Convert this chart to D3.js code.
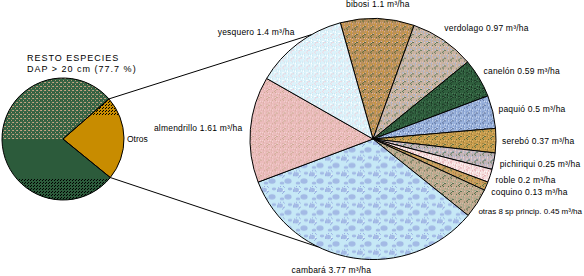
<!DOCTYPE html>
<html><head><meta charset="utf-8">
<script src="https://cdn.jsdelivr.net/npm/d3@7"></script>
<style>
html,body{margin:0;padding:0;background:#fff;}
svg{display:block;}
text{font-family:"Liberation Sans",Arial,sans-serif;fill:#000;}
</style></head>
<body>
<svg id="chart" width="584" height="276"></svg>
<script>
// ---- data ----
const smallCategories = ["RESTO ESPECIES", "Otros"];
const smallValues = [77.7, 22.3];
const titleLines = ["RESTO ESPECIES", "DAP > 20 cm (77.7 %)"];

const bigCategories = ["bibosi","verdolago","canelón","paquió","serebó","pichiriqui","roble","coquino","otras 8 sp princip.","cambará","almendrillo","yesquero"];
const bigValues = [1.1, 0.97, 0.59, 0.5, 0.37, 0.25, 0.2, 0.13, 0.45, 3.77, 1.61, 1.4];
const bigValueLabels = ["1.1","0.97","0.59","0.5","0.37","0.25","0.2","0.13","0.45","3.77","1.61","1.4"];
const unitLabel = "m³/ha";

// ---- styling ----
const textures = [
  {base:"#b8905c", dots:["#56683a","#e4b4a4","#d49a30"]},   // bibosi
  {base:"#c8b2a0", dots:["#5c7a5c","#e8c8c0","#a8b8d8"]},   // verdolago
  {base:"#2f5f3d", dots:["#1c3a26","#4c7a5a","#183020"]},   // canelon
  {base:"#9ab2dc", dots:["#5a6e98","#d8e4f4","#7890c0"]},   // paquio
  {base:"#c89c4c", dots:["#5c7040","#e0b870","#9c8040"]},   // serebo
  {base:"#c4b4b8", dots:["#587858","#a0b4d8","#e8d0d0"]},   // pichiriqui
  {base:"#f6e0e0", dots:["#e0a0a8","#ffffff","#e8b8b8"]},   // roble
  {base:"#c8a064", dots:["#587040","#e0a040","#a88050"]},   // coquino
  {base:"#c2aa90", dots:["#4f6e4c","#d8c0b0","#98a888"]},   // otras
  {base:"#c6e8f6", dots:["#98aee0","#a8bce8","#e8f6fc"]},   // cambara
  {base:"#ebbcbc", dots:["#ccaa94","#f4d4d4","#dcb0a8"]},   // almendrillo
  {base:"#dcf2fa", dots:["#f0d8e0","#c8e4f0","#ffffff"]}    // yesquero
];

const svg = d3.select("#chart");
const defs = svg.append("defs");

// deterministic speckle patterns
function makePattern(id, tex, size, n){
  const p = defs.append("pattern").attr("id", id).attr("patternUnits","userSpaceOnUse")
    .attr("width", size).attr("height", size);
  p.append("rect").attr("width", size).attr("height", size).attr("fill", tex.base);
  let s = 7;
  for (let i = 0; i < n; i++){
    s = (s * 73 + 41) % 997;
    const x = s % size; s = (s * 59 + 13) % 991;
    const y = s % size;
    p.append("rect").attr("x", x).attr("y", y).attr("width", 1).attr("height", 1)
      .attr("fill", tex.dots[i % tex.dots.length]).attr("shape-rendering","crispEdges");
  }
  return p;
}
textures.forEach((t,i) => makePattern("tex" + i, t, 8, 18));
// cambara blobs
defs.select("#tex9").attr("width",16).attr("height",16);
defs.select("#tex9 rect").attr("width",16).attr("height",16);
[[3,4,2.2],[11,11,2.8],[5,13,1.5],[13,3,1.4]].forEach(c => {
  defs.select("#tex9").append("ellipse").attr("cx",c[0]).attr("cy",c[1]).attr("rx",c[2]+0.8).attr("ry",c[2])
    .attr("fill","#9cb2e2").attr("opacity",0.85);
});
// small pie textures
makePattern("dotsTan", {base:"#3a6646", dots:["#b89a78","#2c5a3a","#c8a888"]}, 4, 5);
makePattern("dotsBlack", {base:"#c88c00", dots:["#000000","#c88c00","#000000"]}, 3, 3);
makePattern("dotsDark", {base:"#2c5b3b", dots:["#000000","#2c5b3b"]}, 3, 3);

const rad = d => d * Math.PI / 180;

// ---- small pie ----
const sCx = 63, sCy = 139, sR = 61;
const sStart = rad(48.9);
const sPie = d3.pie().sort(null).startAngle(sStart - rad(smallValues[0] / 100 * 360)).endAngle(sStart + rad(smallValues[1] / 100 * 360));
const sArcs = sPie(smallValues);
const sArc = d3.arc().innerRadius(0).outerRadius(sR);
const sG = svg.append("g").attr("transform", `translate(${sCx},${sCy})`);
defs.append("clipPath").attr("id","upperHalf").append("rect")
  .attr("x", -sR - 2).attr("y", -sR - 2).attr("width", 2 * sR + 4).attr("height", sR + 2);
defs.append("clipPath").attr("id","topBand").append("rect")
  .attr("x", -sR - 2).attr("y", -sR - 2).attr("width", 2 * sR + 4).attr("height", sR - 22);
defs.append("clipPath").attr("id","bottomBand").append("rect")
  .attr("x", -sR - 2).attr("y", sR - 22).attr("width", 2 * sR + 4).attr("height", 30);
sG.append("path").attr("d", sArc(sArcs[0])).attr("fill", "#2c5b3b");
sG.append("path").attr("d", sArc(sArcs[0])).attr("fill", "url(#dotsTan)").attr("clip-path","url(#upperHalf)");
sG.append("path").attr("d", sArc(sArcs[0])).attr("fill", "url(#dotsDark)").attr("clip-path","url(#bottomBand)");
sG.append("path").attr("d", sArc(sArcs[1])).attr("fill", "#c88c00");
sG.append("path").attr("d", sArc(sArcs[1])).attr("fill", "url(#dotsBlack)").attr("clip-path","url(#topBand)");
sG.selectAll("path.o").data(sArcs).join("path").attr("class","o")
  .attr("d", sArc).attr("fill","none").attr("stroke","#000").attr("stroke-width",1);

// Otros label
sG.append("text").attr("x", sR + 3).attr("y", 3).attr("font-size", 8.5).text(smallCategories[1]);

// title
svg.append("g").selectAll("text").data(titleLines).join("text")
  .attr("x", 27).attr("y", (d,i) => 61 + i * 11)
  .attr("font-size", 9).attr("letter-spacing", 1).text(d => d);

// ---- big pie ----
const bCx = 373, bCy = 139, bR = 123;
const bStart = rad(-15.4);
const bPie = d3.pie().sort(null).startAngle(bStart).endAngle(bStart + 2 * Math.PI);
const bArcs = bPie(bigValues);
const bArc = d3.arc().innerRadius(0).outerRadius(bR);
const bG = svg.append("g").attr("transform", `translate(${bCx},${bCy}) scale(1,0.98)`);
bG.selectAll("path").data(bArcs).join("path")
  .attr("d", bArc).attr("fill", (d,i) => `url(#tex${i})`)
  .attr("stroke", "#000").attr("stroke-width", 1);

// labels
const lg = svg.append("g");
bArcs.forEach((d,i) => {
  const a = (d.startAngle + d.endAngle) / 2;
  const s = Math.sin(a), c = Math.cos(a);
  let x = bCx + (bR + 12) * s;
  let y = bCy - (bR + 12) * c + 3;
  let anchor = "middle";
  if (s > 0.3){ anchor = "start"; x -= 6; }
  else if (s < -0.3){ anchor = "end"; x += 4; }
  else if (c < 0){ x -= 20; y -= 2; }
  const t = lg.append("text").attr("x", x).attr("y", y).attr("text-anchor", anchor)
    .attr("font-size", 8.5).attr("letter-spacing", 0.2)
    .text(`${bigCategories[i]} ${bigValueLabels[i]} ${unitLabel}`);
  if (anchor === "start"){
    const len = t.node().getComputedTextLength();
    if (x + len > 584){
      t.attr("font-size", 8).attr("letter-spacing", 0)
        .attr("text-anchor", "end").attr("x", 582);
    }
  }
});

// ---- connector lines ----
const sTop = sArcs[1].startAngle, sBot = sArcs[1].endAngle;
const bTop = rad(-30), bBot = rad(206.4);
const pt = (cx, cy, r, a, ky=1) => [cx + r * Math.sin(a), cy - r * Math.cos(a) * ky];
const lines = [
  [pt(sCx, sCy, sR, sTop), pt(bCx, bCy, bR, bTop, 0.98)],
  [pt(sCx, sCy, sR, sBot), pt(bCx, bCy, bR, bBot, 0.98)]
];
svg.append("g").selectAll("line").data(lines).join("line")
  .attr("x1", d => d[0][0]).attr("y1", d => d[0][1])
  .attr("x2", d => d[1][0]).attr("y2", d => d[1][1])
  .attr("stroke", "#000").attr("stroke-width", 1);
</script>
</body></html>
